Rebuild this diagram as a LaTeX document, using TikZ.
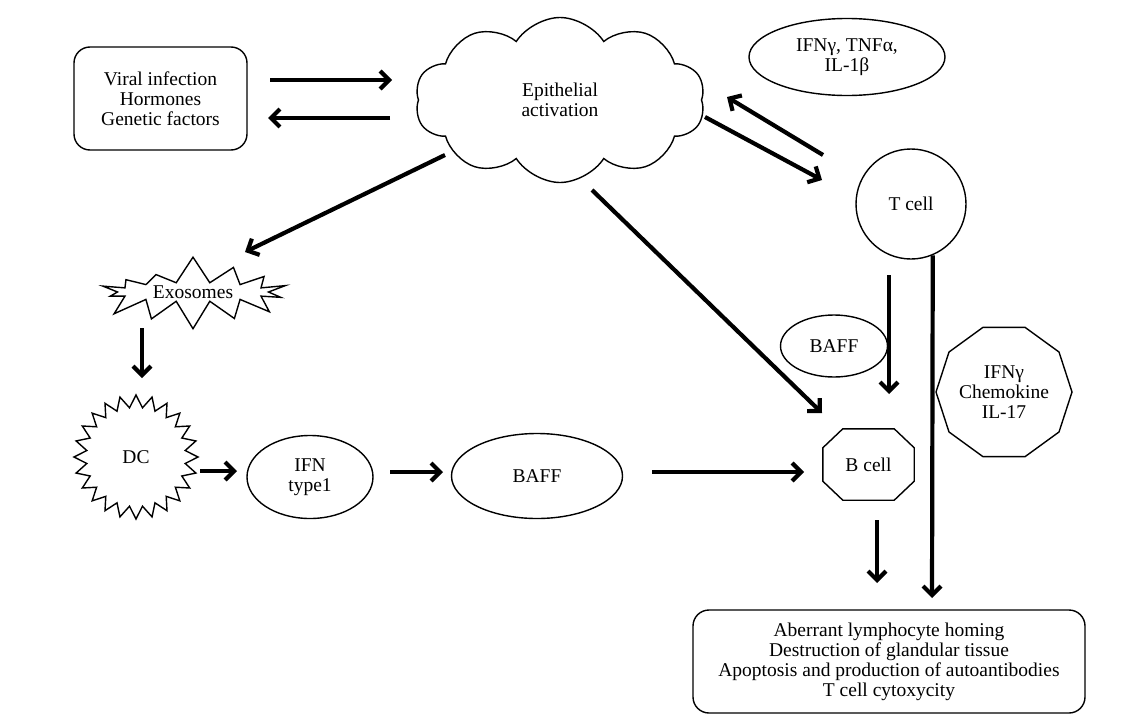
\documentclass[tikz,border=0pt]{standalone}
\usepackage{fontspec}
\setmainfont{Liberation Serif}
\usetikzlibrary{shapes.geometric,shapes.symbols,arrows.meta,calc}
\begin{document}
\begin{tikzpicture}[x=1pt,y=-1pt,
  every node/.style={font=\fontsize{19.5}{20}\selectfont, align=center, inner sep=0pt},
  shp/.style={draw, line width=1.4pt},
  arr/.style={line width=4.2pt, -{Straight Barb[length=9pt,width=18pt]}},
]
\path[use as bounding box] (0,0) rectangle (1140,715);

% nodes
\node[shp, rounded corners=16pt, minimum width=173pt, minimum height=103pt] (cause) at (160.5,98.5) {Viral infection\\Hormones\\Genetic factors};
\node[shp, cloud, cloud puffs=10, cloud puff arc=115, aspect=1.75, minimum width=290pt, minimum height=165pt] (epi) at (560,100) {Epithelial\\activation};
\node[shp, ellipse, minimum width=196pt, minimum height=77pt] (cyt) at (847,57) {IFNγ, TNFα,\\IL-1β};
\node[shp, circle, minimum size=110pt] (tcell) at (911,204) {T cell};
\node[shp, starburst, starburst points=14, starburst point height=28pt, random starburst=7, minimum width=207pt, minimum height=75pt] (exo) at (193,292) {Exosomes};
\node[shp, star, star points=24, star point ratio=1.25, minimum size=124pt] (dc) at (136,457) {DC};
\node[shp, ellipse, minimum width=126pt, minimum height=83pt] (ifn) at (310,477) {IFN\\type1};
\node[shp, ellipse, minimum width=171pt, minimum height=85pt] (baff) at (537,476) {BAFF};
\node[shp, ellipse, minimum width=107pt, minimum height=62pt] (baffs) at (834,346) {BAFF};
\node[minimum width=91pt, minimum height=71pt] (bcell) at (868.5,464.5) {B cell};
\draw[shp] ([xshift=20pt]bcell.north west) -- ([xshift=-20pt]bcell.north east)
  -- ([yshift=-19pt]bcell.north east) -- ([yshift=19pt]bcell.south east)
  -- ([xshift=-20pt]bcell.south east) -- ([xshift=20pt]bcell.south west)
  -- ([yshift=19pt]bcell.south west) -- ([yshift=-19pt]bcell.north west) -- cycle;
\node[shp, regular polygon, regular polygon sides=10, minimum size=136pt] (med) at (1004,392) {IFNγ\\Chemokine\\IL-17};
\node[shp, rounded corners=16pt, minimum width=392pt, minimum height=103pt] (res) at (889,661.5) {Aberrant lymphocyte homing\\Destruction of glandular tissue\\Apoptosis and production of autoantibodies\\T cell cytoxycity};

% arrow end points
\coordinate (a1s) at (270,80);   \coordinate (a1e) at (392,80);
\coordinate (a2s) at (390,118);  \coordinate (a2e) at (268,118);
\coordinate (a3s) at (705,117);  \coordinate (a3e) at (822,180);
\coordinate (a4s) at (823,155);  \coordinate (a4e) at (727,97);
\coordinate (a5s) at (445,155);  \coordinate (a5e) at (245,252);
\coordinate (a6s) at (592,190);  \coordinate (a6e) at (822,413);
\coordinate (a7s) at (142,328);  \coordinate (a7e) at (142,378);
\coordinate (a8s) at (200,471);  \coordinate (a8e) at (237,471);
\coordinate (a9s) at (390,472);  \coordinate (a9e) at (443,472);
\coordinate (a10s) at (652,472); \coordinate (a10e) at (804,472);
\coordinate (a11s) at (889,275); \coordinate (a11e) at (889,394);
\coordinate (a12e) at (932,598);
\coordinate (a13s) at (877,520); \coordinate (a13e) at (877,583);

% connectors
\draw[arr] (a1s) -- (a1e);
\draw[arr] (a2s) -- (a2e);
\draw[arr] (a3s) -- (a3e);
\draw[arr] (a4s) -- (a4e);
\draw[arr] (a5s) -- (a5e);
\draw[arr] (a6s) -- (a6e);
\draw[arr] (a7s) -- (a7e);
\draw[arr] (a8s) -- (a8e);
\draw[arr] (a9s) -- (a9e);
\draw[arr] (a10s) -- (a10e);
\draw[arr] (a11s) -- (a11e);
\draw[arr] (tcell.-67) -- (a12e);
\draw[arr] (a13s) -- (a13e);
\end{tikzpicture}
\end{document}
